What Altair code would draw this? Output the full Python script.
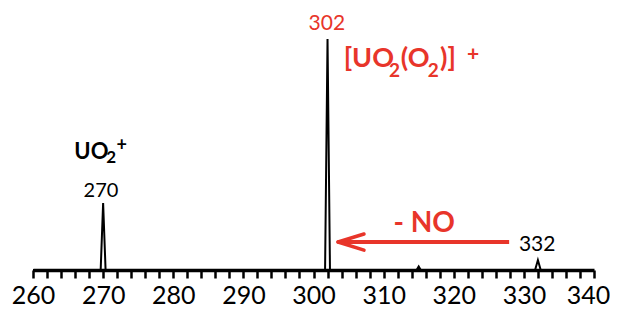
import altair as alt
import pandas as pd

# Spectrum outline (m/z, relative intensity)
mz = [260, 269.65, 270, 270.35, 301.65, 302, 302.35, 314.7, 315, 315.3, 331.6, 332, 332.4, 340]
intensity = [0, 0, 29, 0, 0, 100, 0, 0, 1.5, 0, 0, 4.3, 0, 0]

# Axis ticks (every 2 m/z units); labels every 10
tick_values = list(range(260, 341, 2))

# Peak number labels
num_text = ["302", "270", "332"]
num_x = [301.9, 269.7, 331.9]
num_y = [104.0, 31.6, 8.2]
num_color = ["#e8352a", "black", "black"]
num_size = [21, 20, 21]

# Formula labels (bold pieces)
f_text = ["[UO", "2", "(O", "2", ")]", "+", "UO", "2", "+", "- NO"]
f_x = [304.3, 310.75, 312.45, 316.3, 318.05, 321.9, 265.9, 270.45, 271.9, 311.4]
f_y = [88.0, 83.5, 88.0, 83.5, 88.0, 90.5, 48.0, 46.3, 51.5, 16.4]
f_size = [27, 19, 27, 19, 27, 21, 22, 17, 18, 28]
f_color = ["#e8352a"] * 6 + ["black"] * 3 + ["#e8352a"]

# Arrow (- NO)
arrow_x = [327.9]
arrow_x2 = [303.6]
arrow_y = [12.1]
head_x = [303.5, 303.5]
head_x2 = [307.2, 307.2]
head_y = [12.1, 12.1]
head_y2 = [15.6, 8.6]

spec = pd.DataFrame({"mz": mz, "intensity": intensity})
nums = pd.DataFrame({"t": num_text, "x": num_x, "y": num_y, "c": num_color, "s": num_size})
forms = pd.DataFrame({"t": f_text, "x": f_x, "y": f_y, "c": f_color, "s": f_size})
arrow = pd.DataFrame({"x": arrow_x, "x2": arrow_x2, "y": arrow_y})
head = pd.DataFrame({"x": head_x, "x2": head_x2, "y": head_y, "y2": head_y2})

xscale = alt.Scale(domain=[260, 340], nice=False, zero=False)
yscale = alt.Scale(domain=[0, 113.4], nice=False, zero=False)

xaxis = alt.Axis(values=tick_values,
                 labelExpr="datum.value % 10 == 0 ? datum.label : ''",
                 labelOverlap=False, labelFlush=False, labelBound=False, grid=False,
                 labelOffset={"condition": {"test": "datum.value == 340", "value": -6}, "value": 0},
                 domainWidth=3.5, domainColor="black",
                 tickWidth=2.5, tickSize=8, tickColor="black",
                 labelFontSize=25, labelFont="Lato", labelColor="black",
                 labelPadding=5, title=None)

def X(field):
    return alt.X(field, scale=xscale, axis=xaxis)

def Y(field):
    return alt.Y(field, scale=yscale, axis=None)

line = alt.Chart(spec).mark_line(color="black", strokeWidth=2, clip=False).encode(
    x=X("mz:Q"), y=Y("intensity:Q"),
)

arrow_line = alt.Chart(arrow).mark_rule(color="#e8352a", strokeWidth=4).encode(
    x=X("x:Q"), x2="x2:Q", y=Y("y:Q")
)
arrow_head = alt.Chart(head).mark_rule(color="#e8352a", strokeWidth=3.5, strokeCap="round").encode(
    x=X("x:Q"), x2="x2:Q", y=Y("y:Q"), y2="y2:Q"
)

num_layer = alt.Chart(nums).mark_text(font="Lato", align="center", baseline="alphabetic").encode(
    x=X("x:Q"), y=Y("y:Q"), text="t:N",
    color=alt.Color("c:N", scale=None), size=alt.Size("s:Q", scale=None),
)
form_layer = alt.Chart(forms).mark_text(font="Lato", fontWeight="bold", align="left", baseline="alphabetic").encode(
    x=X("x:Q"), y=Y("y:Q"), text="t:N",
    color=alt.Color("c:N", scale=None), size=alt.Size("s:Q", scale=None),
)

chart = alt.layer(line, arrow_line, arrow_head, num_layer, form_layer).properties(
    width=561, height=262,
    autosize=alt.AutoSizeParams(type="none"),
    padding={"left": 25, "top": 0, "right": 16, "bottom": 40},
).configure_view(stroke=None)

chart.save("out.html", embed_options={"renderer": "svg", "actions": False})
